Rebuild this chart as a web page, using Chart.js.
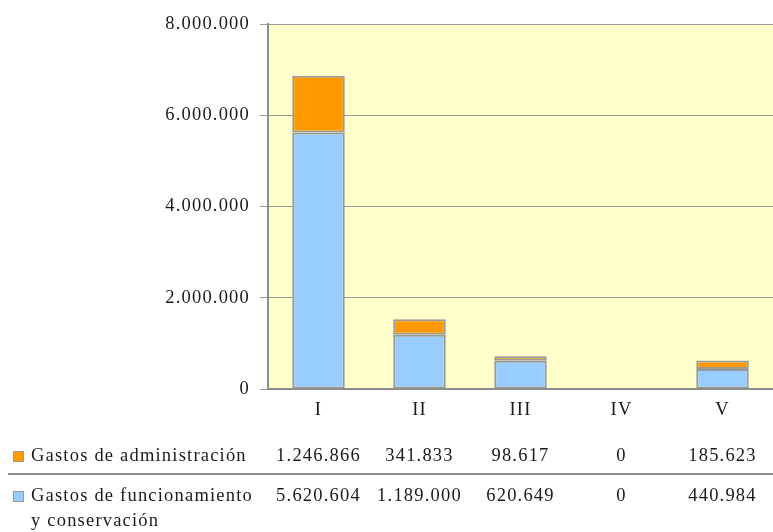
<!DOCTYPE html>
<html>
<head>
<meta charset="utf-8">
<script src="https://cdn.jsdelivr.net/npm/chart.js@4"></script>
<style>
  html, body { margin: 0; padding: 0; background: #ffffff; }
  canvas { display: block; }
</style>
</head>
<body>
<canvas id="c" width="773" height="532"></canvas>
<script>
// Categories and the two cost series (stacked)
const categories = ['I', 'II', 'III', 'IV', 'V'];
const adminCosts = [1246866, 341833, 98617, 0, 185623];
const operatingCosts = [5620604, 1189000, 620649, 0, 440984];
const yTickValues = [0, 2000000, 4000000, 6000000, 8000000];
const adminLabel = ['Gastos de administración'];
const operatingLabel = ['Gastos de funcionamiento', 'y conservación'];

const ORANGE = '#FF9900';
const BLUE = '#99CCFF';
const EDGE = '#999999';
const PLOT_BG = '#FFFFCC';
const TEXT = '#1a1a1a';
const FONT_FAMILY = '"Liberation Serif", "DejaVu Serif", serif';
const FONT_SIZE = 18.5;
const SPACING = '1.2px';

const fmt = v => String(v).replace(/\B(?=(\d{3})+(?!\d))/g, '.');

// Letter spacing for all canvas text
const spacingPlugin = {
  id: 'spacing',
  beforeUpdate(chart) { chart.ctx.letterSpacing = SPACING; },
  beforeDraw(chart) { chart.ctx.letterSpacing = SPACING; }
};

// Pale yellow plot background
const plotBg = {
  id: 'plotBg',
  beforeDraw(chart) {
    const { ctx, chartArea: a } = chart;
    ctx.save();
    ctx.fillStyle = PLOT_BG;
    ctx.fillRect(a.left, a.top, a.right - a.left, a.bottom - a.top);
    ctx.restore();
  }
};

// Data table under the axis: legend key + values per category
const dataTable = {
  id: 'dataTable',
  afterDraw(chart) {
    const { ctx } = chart;
    const x = chart.scales.x;
    ctx.save();
    ctx.letterSpacing = SPACING;
    ctx.font = FONT_SIZE + 'px ' + FONT_FAMILY;
    ctx.fillStyle = TEXT;
    ctx.textBaseline = 'middle';

    const rows = [
      { y: 456, color: ORANGE, label: adminLabel, values: adminCosts },
      { y: 496, color: BLUE, label: operatingLabel, values: operatingCosts }
    ];
    rows.forEach(r => {
      // key square
      ctx.fillStyle = r.color;
      ctx.fillRect(13, r.y - 5, 11, 11);
      ctx.strokeStyle = EDGE;
      ctx.lineWidth = 1;
      ctx.strokeRect(13.5, r.y - 4.5, 10, 10);
      ctx.fillStyle = TEXT;
      ctx.textAlign = 'left';
      r.label.forEach((t, i) => ctx.fillText(t, 31, r.y + i * 25));
      ctx.textAlign = 'center';
      r.values.forEach((v, i) => ctx.fillText(fmt(v), x.getPixelForValue(i), r.y));
    });

    // separator between rows
    ctx.strokeStyle = '#8c8c8c';
    ctx.lineWidth = 2;
    ctx.beginPath();
    ctx.moveTo(8, 474);
    ctx.lineTo(773, 474);
    ctx.stroke();
    ctx.restore();
  }
};

new Chart(document.getElementById('c'), {
  type: 'bar',
  data: {
    labels: categories,
    datasets: [
      {
        label: operatingLabel.join(' '),
        data: operatingCosts,
        backgroundColor: BLUE,
        borderColor: EDGE,
        borderWidth: c => (c.raw ? 2 : 0),
        borderSkipped: false
      },
      {
        label: adminLabel[0],
        data: adminCosts,
        backgroundColor: ORANGE,
        borderColor: EDGE,
        borderWidth: c => (c.raw ? 2 : 0),
        borderSkipped: false
      }
    ]
  },
  options: {
    responsive: false,
    animation: false,
    devicePixelRatio: 1,
    layout: { padding: { top: 24, right: 0, left: 0, bottom: 0 } },
    datasets: { bar: { categoryPercentage: 1, barPercentage: 0.52 } },
    plugins: { legend: { display: false }, tooltip: { enabled: false } },
    scales: {
      x: {
        stacked: true,
        grid: { display: false, drawTicks: false },
        border: { display: true, color: '#8c8c8c', width: 2 },
        ticks: { color: TEXT, font: { family: FONT_FAMILY, size: FONT_SIZE }, padding: 10 },
        afterFit(s) { s.height = 143; }
      },
      y: {
        stacked: true,
        min: 0,
        max: 8000000,
        afterBuildTicks(s) { s.ticks = yTickValues.map(v => ({ value: v })); },
        grid: { color: '#999999', lineWidth: 1, tickLength: 8, drawTicks: true },
        border: { display: true, color: '#8c8c8c', width: 2 },
        ticks: {
          color: TEXT,
          font: { family: FONT_FAMILY, size: FONT_SIZE },
          padding: 10,
          callback: v => fmt(v)
        },
        afterFit(s) { s.width = 268; }
      }
    }
  },
  plugins: [spacingPlugin, plotBg, dataTable]
});
</script>
</body>
</html>
